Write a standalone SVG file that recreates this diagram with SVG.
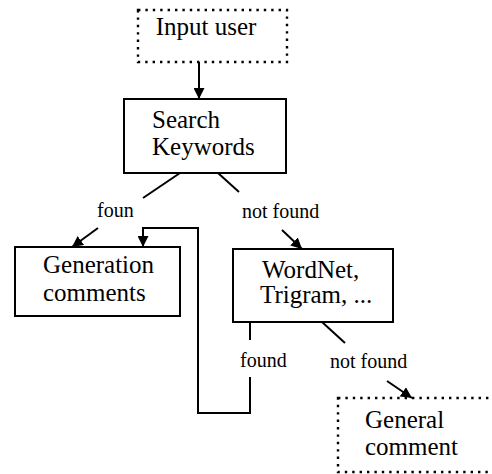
<svg xmlns="http://www.w3.org/2000/svg" width="492" height="474" viewBox="0 0 492 474">
<style>
.box{fill:#fff;stroke:#000;stroke-width:2}
.dot{fill:#fff;stroke:#000;stroke-width:2.4;stroke-dasharray:2.4 5}
.t{font-family:"Liberation Serif","Times New Roman",serif;font-size:25px;fill:#000}
.l{font-family:"Liberation Serif","Times New Roman",serif;font-size:20px;fill:#000}
.c{fill:none;stroke:#000;stroke-width:2}
</style>
<defs>
<marker id="ah" viewBox="0 0 10 10" refX="10" refY="5" markerWidth="11" markerHeight="11" markerUnits="userSpaceOnUse" orient="auto">
<path d="M0,0 L10,5 L0,10 z" fill="#000"/>
</marker>
</defs>
<rect width="492" height="474" fill="#fff"/>
<g id="input-user">
<rect class="dot" x="138" y="10" width="149" height="52"/>
<text class="t" x="206" y="35" text-anchor="middle">Input user</text>
</g>
<g id="search-keywords">
<rect class="box" x="124" y="99" width="162" height="74"/>
<text class="t" x="152" y="128">Search</text>
<text class="t" x="152" y="155">Keywords</text>
</g>
<g id="generation-comments">
<rect class="box" x="15" y="247" width="165" height="69"/>
<text class="t" x="43" y="273">Generation</text>
<text class="t" x="43" y="301">comments</text>
</g>
<g id="wordnet-trigram">
<rect class="box" x="233" y="249" width="160" height="73"/>
<text class="t" x="262" y="278">WordNet,</text>
<text class="t" x="260" y="303">Trigram, ...</text>
</g>
<g id="general-comment">
<rect class="dot" x="338" y="398" width="160" height="74"/>
<text class="t" x="365" y="428">General</text>
<text class="t" x="365" y="455">comment</text>
</g>
<g id="connectors">
<line class="c" x1="199" y1="62" x2="199" y2="99" marker-end="url(#ah)"/>
<line class="c" x1="180" y1="173" x2="143" y2="198"/>
<text class="l" x="97" y="217">foun</text>
<line class="c" x1="98" y1="228" x2="72" y2="247" marker-end="url(#ah)"/>
<line class="c" x1="218" y1="173" x2="239" y2="192"/>
<text class="l" x="242" y="218">not found</text>
<line class="c" x1="282" y1="230" x2="302" y2="249" marker-end="url(#ah)"/>
<line class="c" x1="250" y1="322" x2="250" y2="340"/>
<text class="l" x="240" y="367">found</text>
<polyline class="c" points="250,377 250,413 198,413 198,228 143,228 143,247" marker-end="url(#ah)"/>
<line class="c" x1="322" y1="322" x2="345" y2="343"/>
<text class="l" x="330" y="368">not found</text>
<line class="c" x1="387" y1="381" x2="412" y2="398" marker-end="url(#ah)"/>
</g>
</svg>
